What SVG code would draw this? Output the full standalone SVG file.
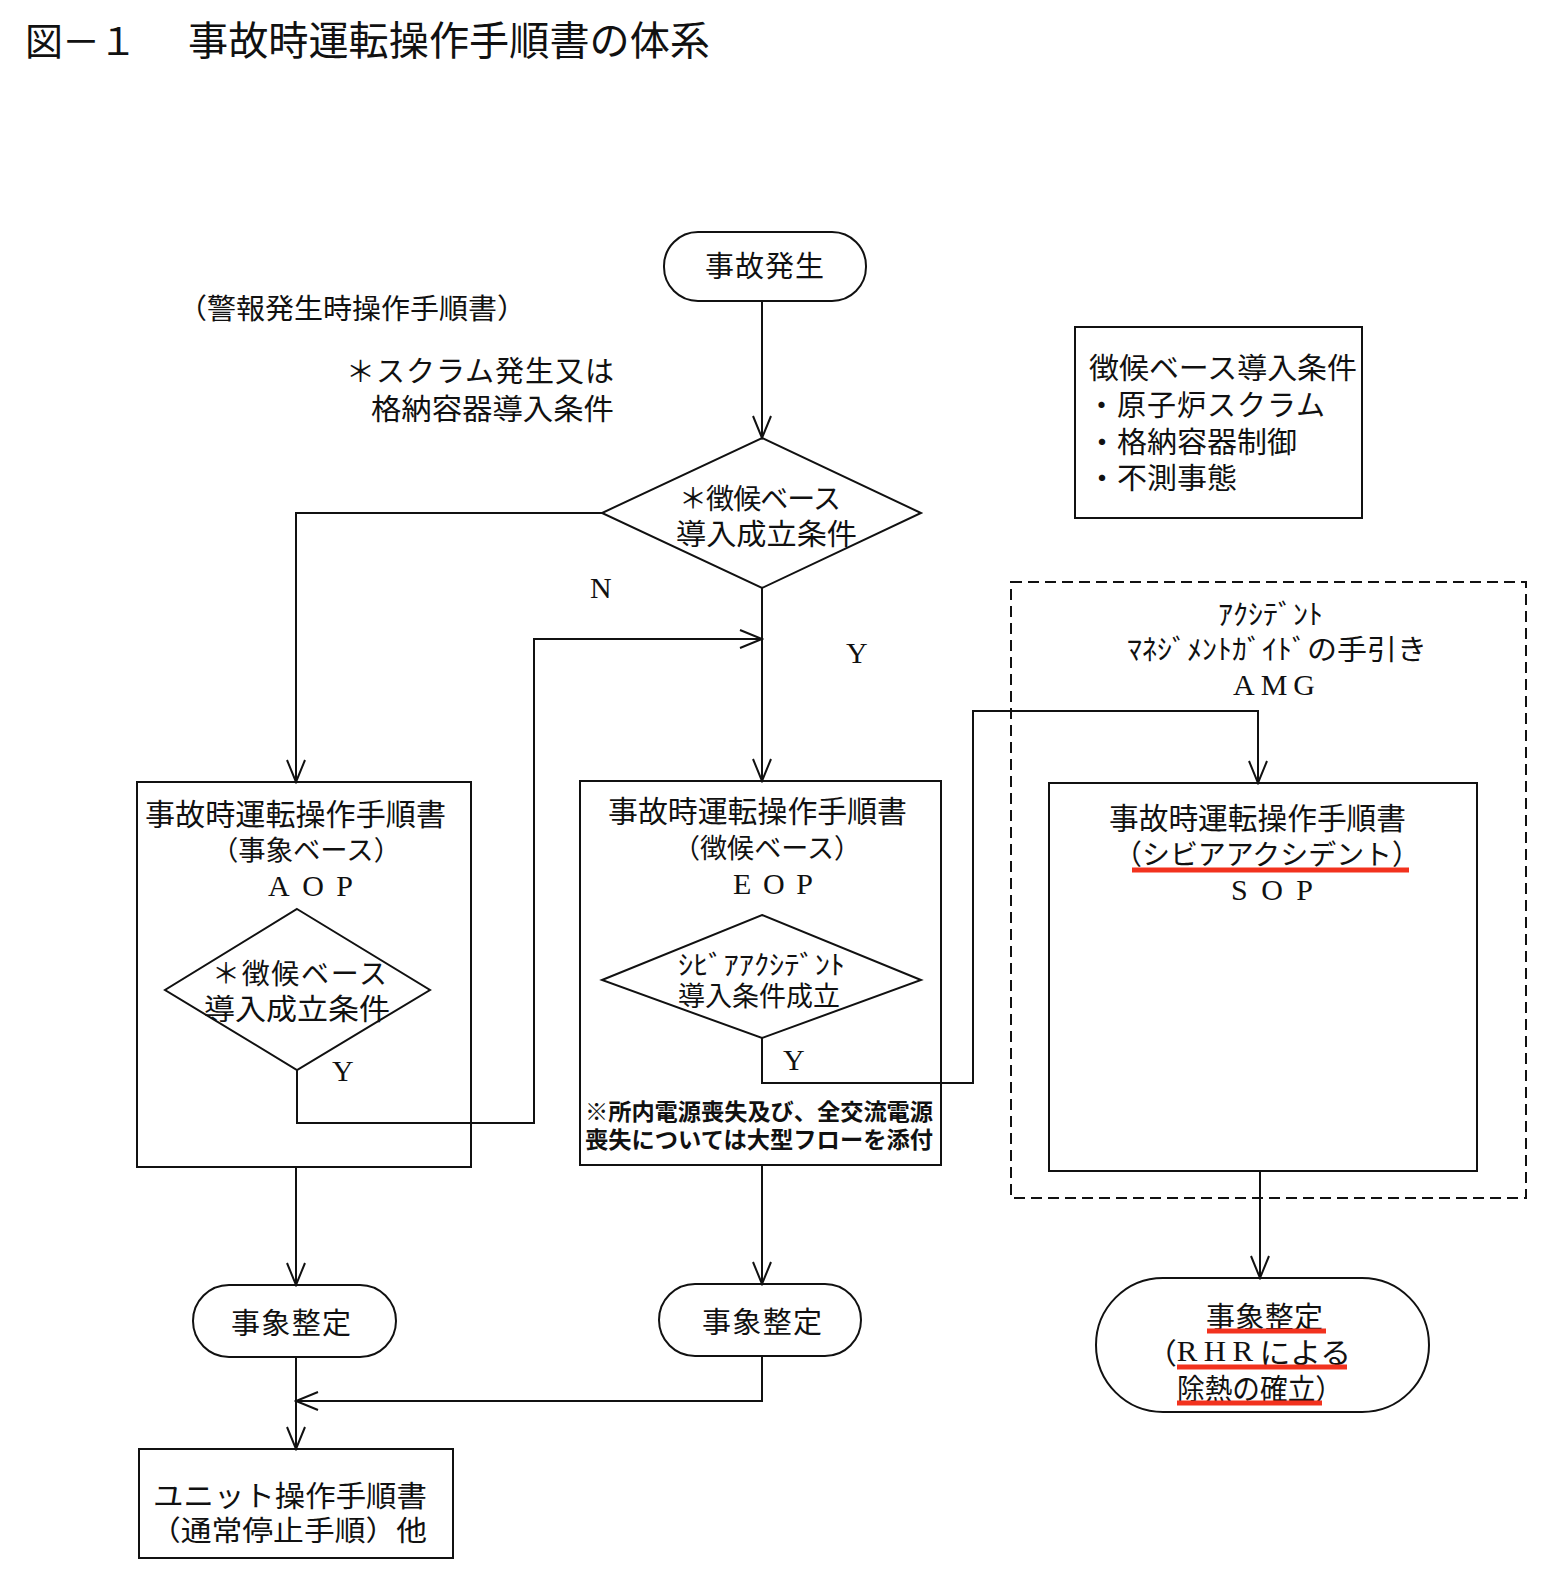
<svg xmlns="http://www.w3.org/2000/svg" width="1567" height="1595" viewBox="0 0 1567 1595">
<style>
text{font-family:"Noto Sans CJK JP","Noto Sans",sans-serif;fill:#111;dominant-baseline:central}
.lat{font-family:"Liberation Serif","DejaVu Serif",serif}
.box{fill:none;stroke:#111;stroke-width:2}
.ln{fill:none;stroke:#111;stroke-width:2}
.red{stroke:#f2321e;stroke-width:5}
</style>
<defs>
<marker id="arr" viewBox="-24 -12 26 24" refX="0" refY="0" markerWidth="26" markerHeight="24" markerUnits="userSpaceOnUse" orient="auto">
<path d="M-22,-9 L0,0 L-22,9" fill="none" stroke="#111" stroke-width="2"/>
</marker>
</defs>
<rect width="1567" height="1595" fill="#fff"/>

<g id="title">
<text x="25" y="38" font-size="38" textLength="112">図－１</text>
<text x="188" y="38" font-size="40" textLength="522" lengthAdjust="spacingAndGlyphs">事故時運転操作手順書の体系</text>
</g>

<g id="note-alarm">
<text x="178" y="307" font-size="28" textLength="348" lengthAdjust="spacingAndGlyphs">（警報発生時操作手順書）</text>
<text x="346" y="369" font-size="29" textLength="268">＊スクラム発生又は</text>
<text x="371" y="407" font-size="29" textLength="243" lengthAdjust="spacingAndGlyphs">格納容器導入条件</text>
</g>

<g id="start">
<rect class="box" x="664" y="232" width="202" height="69" rx="34"/>
<text x="705" y="264" font-size="29" textLength="119">事故発生</text>
</g>

<g id="decision-main">
<polygon class="box" points="762,438 921,513 762,588 602,513"/>
<text x="679" y="497" font-size="28" textLength="162">＊徴候ベース</text>
<text x="676" y="532" font-size="29" textLength="181" lengthAdjust="spacingAndGlyphs">導入成立条件</text>
</g>

<g id="cond-box">
<rect class="box" x="1075" y="327" width="287" height="191"/>
<text x="1089" y="366" font-size="29" textLength="268" lengthAdjust="spacingAndGlyphs">徴候ベース導入条件</text>
<text x="1087" y="403" font-size="29" textLength="238">・原子炉スクラム</text>
<text x="1087" y="440" font-size="29" textLength="210" lengthAdjust="spacingAndGlyphs">・格納容器制御</text>
<text x="1087" y="476" font-size="29" textLength="150" lengthAdjust="spacingAndGlyphs">・不測事態</text>
</g>

<g id="aop">
<rect class="box" x="137" y="782" width="334" height="385"/>
<text x="145" y="812" font-size="30" textLength="301" lengthAdjust="spacingAndGlyphs">事故時運転操作手順書</text>
<text x="211" y="848" font-size="27" textLength="190" lengthAdjust="spacingAndGlyphs">（事象ベース）</text>
<text class="lat" x="268" y="885" font-size="30" textLength="85">AOP</text>
<polygon class="box" points="297,909 430,990 297,1070 165,990"/>
<text x="212" y="972" font-size="28" textLength="175">＊徴候ベース</text>
<text x="204" y="1007" font-size="29" textLength="186" lengthAdjust="spacingAndGlyphs">導入成立条件</text>
<text class="lat" x="332" y="1070" font-size="30">Y</text>
</g>

<g id="eop">
<rect class="box" x="580" y="781" width="361" height="384"/>
<text x="608" y="809" font-size="30" textLength="299" lengthAdjust="spacingAndGlyphs">事故時運転操作手順書</text>
<text x="673" y="846" font-size="27" textLength="188" lengthAdjust="spacingAndGlyphs">（徴候ベース）</text>
<text class="lat" x="733" y="883" font-size="30" textLength="80">EOP</text>
<polygon class="box" points="762,915 921,980 762,1038 602,980"/>
<text x="678" y="963" font-size="27" textLength="167" lengthAdjust="spacingAndGlyphs">ｼﾋﾞｱｱｸｼﾃﾞﾝﾄ</text>
<text x="678" y="994" font-size="27" textLength="162">導入条件成立</text>
<text class="lat" x="783" y="1059" font-size="30">Y</text>
<text x="585" y="1110" font-size="23" font-weight="700" textLength="348" lengthAdjust="spacingAndGlyphs">※所内電源喪失及び、全交流電源</text>
<text x="585" y="1138" font-size="23" font-weight="700" textLength="348" lengthAdjust="spacingAndGlyphs">喪失については大型フローを添付</text>
</g>

<g id="amg">
<rect x="1011" y="582" width="515" height="616" fill="none" stroke="#111" stroke-width="2" stroke-dasharray="11,6"/>
<text x="1218" y="613" font-size="28" textLength="105" lengthAdjust="spacingAndGlyphs">ｱｸｼﾃﾞﾝﾄ</text>
<text x="1127" y="648" font-size="28" textLength="300" lengthAdjust="spacingAndGlyphs">ﾏﾈｼﾞﾒﾝﾄｶﾞｲﾄﾞの手引き</text>
<text class="lat" x="1233" y="684" font-size="30" textLength="82">AMG</text>
</g>

<g id="sop">
<rect class="box" x="1049" y="783" width="428" height="388"/>
<text x="1109" y="816" font-size="30" textLength="297" lengthAdjust="spacingAndGlyphs">事故時運転操作手順書</text>
<text x="1114" y="853" font-size="28" textLength="306" lengthAdjust="spacingAndGlyphs">（シビアアクシデント）</text>
<line class="red" x1="1132" y1="870" x2="1409" y2="870"/>
<text class="lat" x="1231" y="889" font-size="30" textLength="82">SOP</text>
</g>

<g id="end-aop">
<rect class="box" x="193" y="1285" width="203" height="72" rx="36"/>
<text x="231" y="1321" font-size="29" textLength="120">事象整定</text>
</g>

<g id="end-eop">
<rect class="box" x="659" y="1284" width="202" height="72" rx="36"/>
<text x="702" y="1320" font-size="29" textLength="120">事象整定</text>
</g>

<g id="end-sop">
<rect class="box" x="1096" y="1278" width="333" height="134" rx="67"/>
<text x="1206" y="1315" font-size="29" textLength="117">事象整定</text>
<text x="1146" y="1351" font-size="29" textLength="205" lengthAdjust="spacingAndGlyphs">（<tspan class="lat" letter-spacing="6">RHR</tspan>による</text>
<text x="1177" y="1387" font-size="29" textLength="166" lengthAdjust="spacingAndGlyphs">除熱の確立）</text>
<line class="red" x1="1207" y1="1331" x2="1326" y2="1331"/>
<line class="red" x1="1177" y1="1367" x2="1347" y2="1367"/>
<line class="red" x1="1177" y1="1403" x2="1322" y2="1403"/>
</g>

<g id="unit">
<rect class="box" x="139" y="1449" width="314" height="109"/>
<text x="153" y="1494" font-size="29" textLength="274" lengthAdjust="spacingAndGlyphs">ユニット操作手順書</text>
<text x="150" y="1529" font-size="28" textLength="277" lengthAdjust="spacingAndGlyphs">（通常停止手順）他</text>
</g>

<g id="connectors">
<path class="ln" d="M762,301 V438" marker-end="url(#arr)"/>
<path class="ln" d="M602,513 H296 V782" marker-end="url(#arr)"/>
<path class="ln" d="M762,588 V781" marker-end="url(#arr)"/>
<path class="ln" d="M297,1070 V1123 H534 V639 H762" marker-end="url(#arr)"/>
<path class="ln" d="M762,1038 V1083 H973 V711 H1258 V783" marker-end="url(#arr)"/>
<path class="ln" d="M296,1167 V1285" marker-end="url(#arr)"/>
<path class="ln" d="M762,1165 V1284" marker-end="url(#arr)"/>
<path class="ln" d="M1260,1171 V1278" marker-end="url(#arr)"/>
<path class="ln" d="M762,1356 V1401 H296" marker-end="url(#arr)"/>
<path class="ln" d="M296,1357 V1449" marker-end="url(#arr)"/>
<text class="lat" x="590" y="587" font-size="30">N</text>
<text class="lat" x="846" y="652" font-size="30">Y</text>
</g>
</svg>
